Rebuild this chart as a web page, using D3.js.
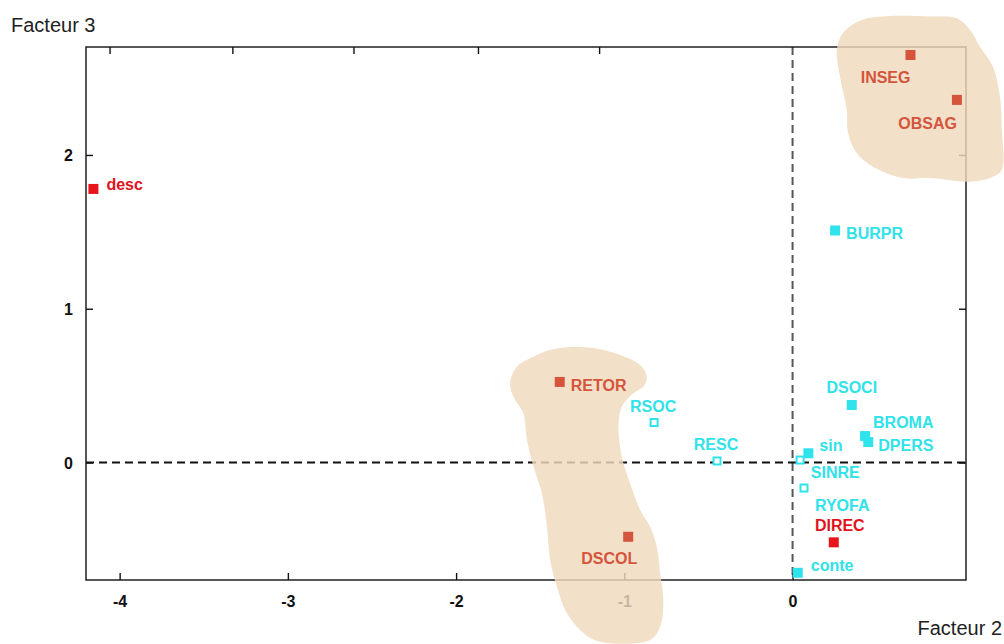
<!DOCTYPE html>
<html>
<head>
<meta charset="utf-8">
<script src="https://cdn.jsdelivr.net/npm/d3@7"></script>
<style>
  html, body { margin: 0; padding: 0; background: #fff; }
  svg { display: block; }
  .lbl { font-family: "Liberation Sans", Arial, sans-serif; font-weight: bold; font-size: 16px; }
  .tick-lbl { font-family: "Liberation Sans", Arial, sans-serif; font-weight: bold; font-size: 16px; fill: #111; }
  .axis-title { font-family: "Liberation Sans", Arial, sans-serif; font-size: 20px; fill: #222; }
</style>
</head>
<body>
<script>
// Modalities projected on factors 2 (x) and 3 (y)
const names  = ["desc", "INSEG", "OBSAG", "BURPR", "RETOR", "RSOC", "RESC", "DSCOL",
                "DSOCI", "BROMA", "DPERS", "sin", "SINRE", "RYOFA", "DIREC", "conte"];
const factor2 = [-4.156, 0.701, 0.977, 0.253, -1.384, -0.823, -0.449, -0.977,
                 0.352, 0.431, 0.450, 0.094, 0.045, 0.068, 0.245, 0.031];
const factor3 = [1.779, 2.650, 2.358, 1.509, 0.524, 0.260, 0.010, -0.483,
                 0.374, 0.172, 0.133, 0.060, 0.016, -0.166, -0.519, -0.717];
const groups  = ["red", "cluster", "cluster", "active", "cluster", "supp", "supp", "cluster",
                 "active", "active", "active", "active", "supp", "supp", "red", "active"];

// Tick values
const xTicks = [-4, -3, -2, -1, 0];
const yTicks = [0, 1, 2];
const topTicks = [-4.06, -3.33, -2.61, -1.87, -1.15];

// Outlines of the highlighted clusters (factor units)
const clusterTop = [[0.411,2.878],[0.579,2.904],[0.817,2.900],[0.976,2.889],[1.055,2.813],[1.114,2.704],
  [1.191,2.574],[1.233,2.379],[1.243,2.184],[1.243,1.902],[1.174,1.850],[1.055,1.826],[0.817,1.850],
  [0.657,1.850],[0.478,1.924],[0.381,2.013],[0.330,2.143],[0.322,2.293],[0.282,2.509],[0.263,2.683],[0.300,2.793]];
const clusterLeft = [[-1.441,0.732],[-1.282,0.753],[-1.084,0.721],[-0.906,0.634],[-0.866,0.558],[-0.887,0.493],
  [-0.946,0.450],[-1.015,0.363],[-1.035,0.233],[-1.015,0.038],[-0.966,-0.135],[-0.906,-0.309],[-0.847,-0.418],
  [-0.807,-0.548],[-0.787,-0.721],[-0.768,-0.894],[-0.787,-1.068],[-0.847,-1.154],[-1.144,-1.166],[-1.243,-1.109],
  [-1.342,-0.979],[-1.401,-0.808],[-1.441,-0.634],[-1.460,-0.418],[-1.490,-0.200],[-1.540,-0.027],[-1.579,0.146],
  [-1.600,0.320],[-1.659,0.428],[-1.679,0.515],[-1.639,0.623],[-1.540,0.688]];

const W = 1004, H = 644;
const plot = { left: 86, right: 966, top: 47, bottom: 580 };

const x = d3.scaleLinear().domain([-4.2, 1.031]).range([plot.left, plot.right]);
const y = d3.scaleLinear().domain([-0.764, 2.702]).range([plot.bottom, plot.top]);

const svg = d3.select("body").append("svg").attr("width", W).attr("height", H);

// Reference lines through the origin
svg.append("line")
  .attr("x1", x(0)).attr("x2", x(0)).attr("y1", plot.top).attr("y2", plot.bottom)
  .attr("stroke", "#555").attr("stroke-width", 2).attr("stroke-dasharray", "8,5");
svg.append("line")
  .attr("x1", plot.left).attr("x2", plot.right).attr("y1", y(0)).attr("y2", y(0))
  .attr("stroke", "#111").attr("stroke-width", 2).attr("stroke-dasharray", "8,5");

// Frame
svg.append("rect")
  .attr("x", plot.left).attr("y", plot.top)
  .attr("width", plot.right - plot.left).attr("height", plot.bottom - plot.top)
  .attr("fill", "none").attr("stroke", "#111").attr("stroke-width", 1.4);

// Axes with inward ticks; plain hyphen for negative numbers
const fmt = d => String(d);
const tickLen = 7;
const axB = svg.append("g").attr("transform", `translate(0,${plot.bottom})`)
  .call(d3.axisBottom(x).tickValues(xTicks).tickSize(-tickLen).tickFormat(fmt));
const axT = svg.append("g").attr("transform", `translate(0,${plot.top})`)
  .call(d3.axisTop(x).tickValues(topTicks).tickSize(-tickLen).tickFormat(""));
const axL = svg.append("g").attr("transform", `translate(${plot.left},0)`)
  .call(d3.axisLeft(y).tickValues(yTicks).tickSize(-tickLen).tickFormat(fmt));
const axR = svg.append("g").attr("transform", `translate(${plot.right},0)`)
  .call(d3.axisRight(y).tickValues(yTicks).tickSize(-tickLen).tickFormat(""));
[axB, axT, axL, axR].forEach(g => {
  g.attr("font-size", null).attr("font-family", null);
  g.select(".domain").remove();
  g.selectAll(".tick line").attr("stroke", "#111").attr("stroke-width", 1.4);
  g.selectAll(".tick text").attr("class", "tick-lbl").attr("fill", null);
});
axB.selectAll(".tick text").attr("y", 27).attr("dy", 0);
axL.selectAll(".tick text").attr("x", -13).attr("dy", "0.36em");

// Highlighted clusters
const outline = d3.line().x(d => x(d[0])).y(d => y(d[1])).curve(d3.curveCatmullRomClosed.alpha(0.5));
svg.append("g").selectAll("path")
  .data([clusterTop, clusterLeft])
  .join("path")
  .attr("d", outline)
  .attr("fill", "#efd9bd")
  .attr("fill-opacity", 0.82);

// Points
const color = { red: "#e8141c", cluster: "#d5553c", active: "#2fe3ec", supp: "#2fe3ec" };
const pts = names.map((n, i) => ({ name: n, fx: factor2[i], fy: factor3[i], g: groups[i] }));

const gp = svg.append("g");
gp.selectAll("rect.filled")
  .data(pts.filter(d => d.g !== "supp"))
  .join("rect").attr("class", "filled")
  .attr("x", d => x(d.fx) - 5).attr("y", d => y(d.fy) - 5)
  .attr("width", 10).attr("height", 10)
  .attr("fill", d => color[d.g]);
gp.selectAll("rect.hollow")
  .data(pts.filter(d => d.g === "supp"))
  .join("rect").attr("class", "hollow")
  .attr("x", d => x(d.fx) - 3.5).attr("y", d => y(d.fy) - 3.5)
  .attr("width", 7).attr("height", 7)
  .attr("fill", "#fff").attr("stroke", d => color[d.g]).attr("stroke-width", 2);

// Label placement: [dx, dy, anchor]
const place = {
  desc: [13, 1, "start"], INSEG: [0, 28, "end"], OBSAG: [0, 29, "end"], BURPR: [11, 8.5, "start"],
  RETOR: [11, 9, "start"], RSOC: [-1, -10.5, "middle"], RESC: [-1, -11, "middle"], DSCOL: [9, 27, "end"],
  DSOCI: [0, -11.5, "middle"], BROMA: [8, -8.5, "start"], DPERS: [10, 8.7, "start"], sin: [11, -2.6, "start"],
  SINRE: [10.7, 18.3, "start"], RYOFA: [11, 22.7, "start"], DIREC: [6, -11.3, "middle"], conte: [13, -2, "start"]
};
const labelColor = { red: "#e0121c", cluster: "#d5553c", active: "#30e2ea", supp: "#30e2ea" };
gp.selectAll("text")
  .data(pts)
  .join("text")
  .attr("class", "lbl")
  .attr("x", d => x(d.fx) + place[d.name][0])
  .attr("y", d => y(d.fy) + place[d.name][1])
  .attr("text-anchor", d => place[d.name][2])
  .attr("fill", d => labelColor[d.g])
  .text(d => d.name);

// Axis titles
svg.append("text").attr("class", "axis-title").attr("x", 11).attr("y", 32).text("Facteur 3");
svg.append("text").attr("class", "axis-title").attr("x", 1002).attr("y", 635)
  .attr("text-anchor", "end").text("Facteur 2");
</script>
</body>
</html>
